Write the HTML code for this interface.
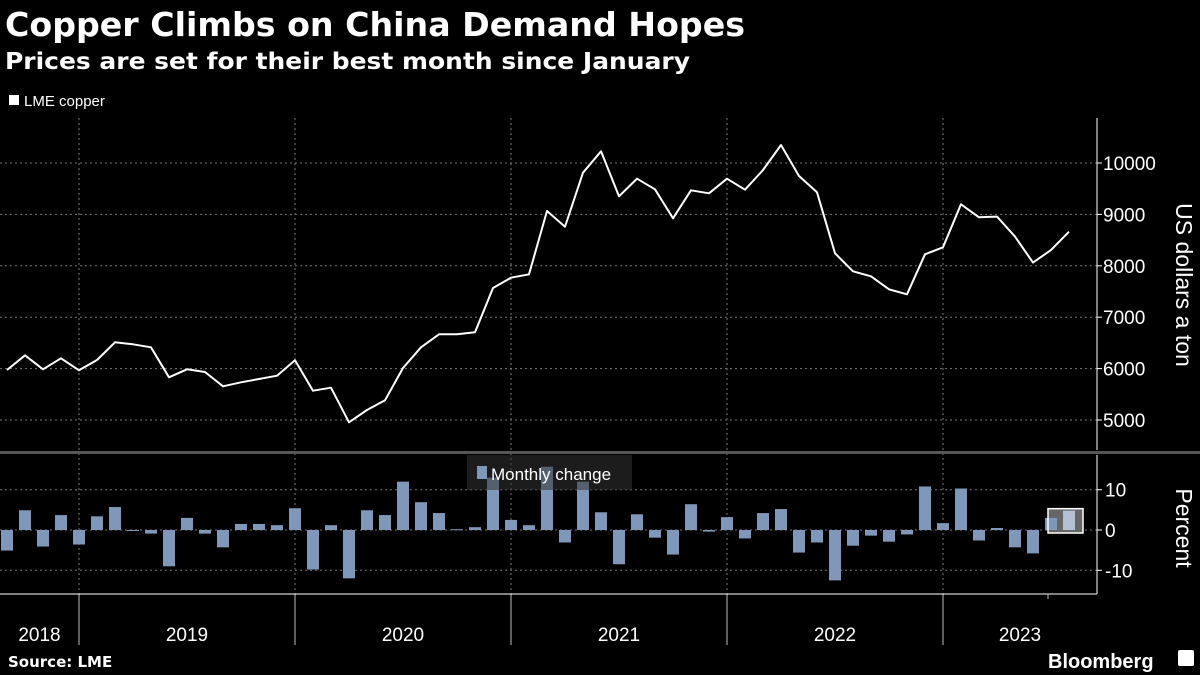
<!DOCTYPE html>
<html><head><meta charset="utf-8"><style>
html,body{margin:0;padding:0;background:#000;}
svg{display:block;font-family:"DejaVu Sans","Liberation Sans",sans-serif;}
</style></head><body>
<svg id="chart" width="1200" height="675" viewBox="0 0 1200 675" xmlns="http://www.w3.org/2000/svg">
<rect width="1200" height="675" fill="#000"/>
<text x="5" y="36" fill="#fff" font-weight="bold" font-size="33" textLength="740" lengthAdjust="spacingAndGlyphs">Copper Climbs on China Demand Hopes</text>
<text x="5" y="69" fill="#fff" font-weight="bold" font-size="23" textLength="685" lengthAdjust="spacingAndGlyphs">Prices are set for their best month since January</text>
<g>
<rect x="9" y="95" width="10" height="10" fill="#fff"/>
<text x="24" y="106" fill="#fff" font-size="15" font-family="Liberation Sans, sans-serif">LME copper</text>
</g>
<g id="grid"></g>
<g id="hl"></g>
<g id="bars"></g>
<g id="line"></g>
<g id="axes"></g>
<text x="8" y="667" fill="#fff" font-weight="bold" font-size="15">Source: LME</text>
<text x="1048" y="668" fill="#fff" font-weight="bold" font-size="20" font-family="Liberation Sans, sans-serif">Bloomberg</text>
<rect x="1178" y="650" width="16" height="16" rx="2" fill="#fff"/>
</svg>
<script>
const months = ["2018-09","2018-10","2018-11","2018-12","2019-01","2019-02","2019-03","2019-04","2019-05","2019-06","2019-07","2019-08","2019-09","2019-10","2019-11","2019-12","2020-01","2020-02","2020-03","2020-04","2020-05","2020-06","2020-07","2020-08","2020-09","2020-10","2020-11","2020-12","2021-01","2021-02","2021-03","2021-04","2021-05","2021-06","2021-07","2021-08","2021-09","2021-10","2021-11","2021-12","2022-01","2022-02","2022-03","2022-04","2022-05","2022-06","2022-07","2022-08","2022-09","2022-10","2022-11","2022-12","2023-01","2023-02","2023-03","2023-04","2023-05","2023-06","2023-07","2023-08"];
const prices = [5973,6259,5986,6200,5967,6167,6512,6473,6414,5830,5986,5934,5655,5733,5798,5862,6161,5570,5628,4955,5195,5383,6012,6414,6667,6667,6706,7568,7768,7835,9066,8761,9811,10228,9352,9695,9488,8924,9469,9410,9695,9481,9864,10350,9747,9430,8243,7893,7796,7543,7446,8224,8360,9197,8944,8957,8568,8062,8307,8663];
const changes = [-5.1,4.9,-4.1,3.7,-3.6,3.4,5.7,-0.1,-0.9,-9.0,3.0,-0.9,-4.3,1.5,1.5,1.2,5.4,-9.8,1.2,-12.0,4.9,3.7,12.0,6.9,4.2,0.2,0.7,13.0,2.5,1.2,15.7,-3.1,12.0,4.4,-8.5,3.9,-1.9,-6.1,6.4,-0.4,3.2,-2.1,4.2,5.2,-5.6,-3.1,-12.5,-3.9,-1.4,-2.9,-1.1,10.8,1.7,10.3,-2.6,0.5,-4.3,-5.8,3.0,4.8];
const priceTicks = [5000,6000,7000,8000,9000,10000];
const pctTicks = [10,0,-10];
const yearLabels = ["2018","2019","2020","2021","2022","2023"];

const NS="http://www.w3.org/2000/svg";
function mk(tag,attrs,parent){const e=document.createElementNS(NS,tag);for(const k in attrs)e.setAttribute(k,attrs[k]);parent.appendChild(e);return e;}
const xAt = i => 7 + i*18;
const yPrice = v => 420 - (v-5000)*0.0514;
const yPct = v => 530 - v*4.03;
const AX = 1097;
const grid=document.getElementById('grid'), hlG=document.getElementById('hl'), barsG=document.getElementById('bars'), lineG=document.getElementById('line'), axes=document.getElementById('axes');

const janIdx=[]; months.forEach((m,i)=>{if(m.endsWith('-01'))janIdx.push(i);});
janIdx.forEach(i=>{
  const x=xAt(i);
  const g=mk('line',{x1:x,x2:x,y1:118,y2:594,stroke:'#777','stroke-dasharray':'2,3','stroke-width':1},grid);
  
  
  const t=mk('line',{x1:x,x2:x,y1:594,y2:645,stroke:'#bbb','stroke-width':1},axes);
  
  
});
priceTicks.forEach(v=>{
  const y=yPrice(v);
  const g=mk('line',{x1:0,x2:AX,y1:y,y2:y,stroke:'#777','stroke-dasharray':'2,3'},grid);
  
  
  mk('line',{x1:AX,x2:AX+5,y1:y,y2:y,stroke:'#fff'},axes);
  const t=mk('text',{x:AX+6,y:y+7,fill:'#fff','font-size':19,'font-family':'Liberation Sans, sans-serif'},axes);
  t.textContent=v;
  
  
});
pctTicks.forEach(v=>{
  const y=yPct(v);
  const g=mk('line',{x1:0,x2:AX,y1:y,y2:y,stroke:'#777','stroke-dasharray':'2,3'},grid);
  
  
  mk('line',{x1:AX,x2:AX+5,y1:y,y2:y,stroke:'#fff'},axes);
  const t=mk('text',{x:AX+8,y:y+7,fill:'#fff','font-size':19,'font-family':'Liberation Sans, sans-serif'},axes);
  t.textContent=(v<0?'-':'')+Math.abs(v);
  
  
});
// highlight box for latest bar
(function(){const i=changes.length-1,x=xAt(i);
  const top=Math.min(yPct(changes[i]),yPct(0))-2;
  const bg=mk('rect',{x:x-21,y:top,width:35,height:yPct(0)-top+3,fill:'#666'},hlG);
  
  
  const hb=mk('rect',{x:x-21,y:top,width:35,height:yPct(0)-top+3,fill:'none',stroke:'#fff','stroke-width':1.5},axes);
  
  
})();
changes.forEach((v,i)=>{
  const y0=yPct(0), y1=yPct(v);
  const last = i===changes.length-1;
  const b=mk('rect',{x:xAt(i)-6,y:Math.min(y0,y1),width:12,height:Math.max(1,Math.abs(y1-y0)),fill:last?'#b4c0d3':'#7f97b8'},barsG);
  
  
});
const pts=prices.map((v,i)=>xAt(i)+','+yPrice(v).toFixed(1)).join(' ');
const pl=mk('polyline',{points:pts,fill:'none',stroke:'#fff','stroke-width':2,'stroke-linejoin':'round'},lineG);


mk('line',{x1:AX,x2:AX,y1:118,y2:450,stroke:'#fff'},axes);
mk('line',{x1:AX,x2:AX,y1:455,y2:594,stroke:'#fff'},axes);
mk('line',{x1:0,x2:AX,y1:594,y2:594,stroke:'#fff'},axes);
mk('line',{x1:1048,x2:1048,y1:594,y2:599,stroke:'#bbb'},axes);
const sep=mk('rect',{x:0,y:451,width:1200,height:3,fill:'#555'},axes);


const lg=mk('rect',{x:467,y:455,width:165,height:35,fill:'#333',opacity:0.55},axes);


mk('rect',{x:477,y:466,width:10,height:13,fill:'#7f97b8'},axes);
const lt=mk('text',{x:491,y:480,fill:'#fff','font-size':17,'font-family':'Liberation Sans, sans-serif'},axes);
lt.textContent='Monthly change';


const t1=mk('text',{x:1176,y:285,fill:'#fff','font-size':23,'text-anchor':'middle','font-family':'Liberation Sans, sans-serif',transform:'rotate(90 1176 285)'},axes);
t1.textContent='US dollars a ton';


const t2=mk('text',{x:1176,y:528,fill:'#fff','font-size':23,'text-anchor':'middle','font-family':'Liberation Sans, sans-serif',transform:'rotate(90 1176 528)'},axes);
t2.textContent='Percent';


const bounds=[0].concat(janIdx.map(xAt)).concat([AX]);
yearLabels.forEach((y,k)=>{
  const cx=(bounds[k]+bounds[k+1])/2;
  const t=mk('text',{x:cx,y:641,fill:'#fff','font-size':19,'text-anchor':'middle','font-family':'Liberation Sans, sans-serif'},axes);
  t.textContent=y;
  
  
});
</script>
</body></html>
